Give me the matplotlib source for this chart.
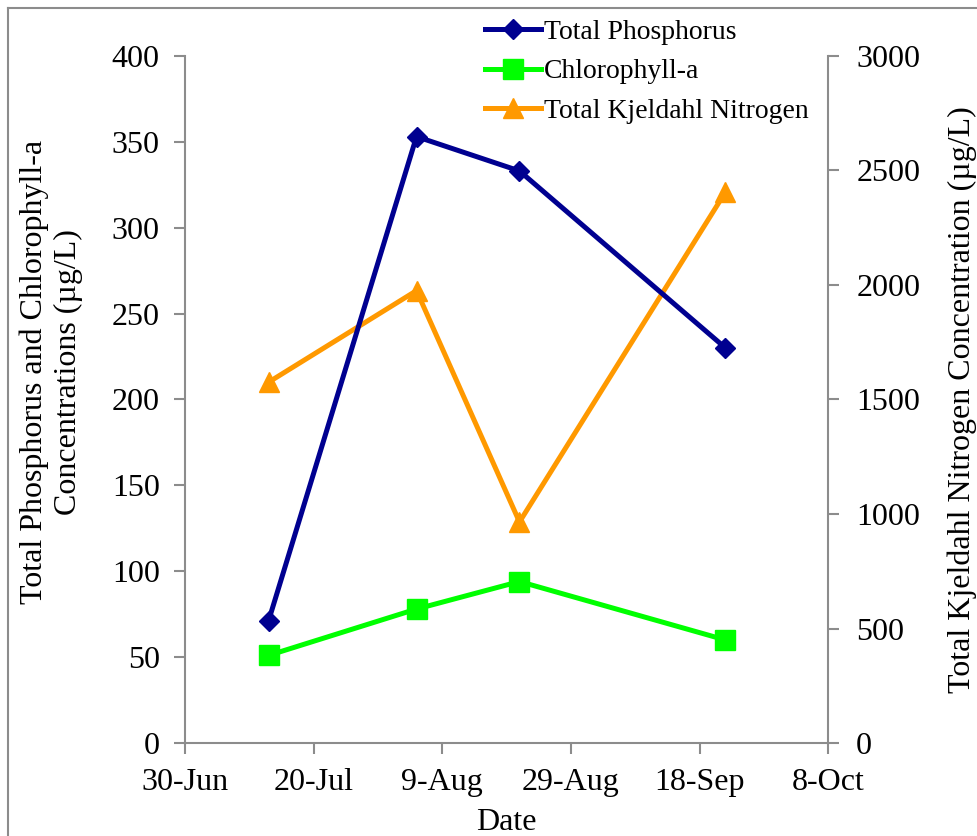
import datetime as dt
import matplotlib
matplotlib.use('Agg')
import matplotlib.pyplot as plt
import matplotlib.dates as mdates
from matplotlib.lines import Line2D

plt.rcParams['font.family'] = ['Liberation Serif', 'DejaVu Serif']

# Sampling dates and concentrations (ug/L)
dates = [dt.date(2010, 7, 13), dt.date(2010, 8, 5), dt.date(2010, 8, 21), dt.date(2010, 9, 22)]
total_phosphorus = [71, 353, 333, 230]
chlorophyll_a = [51, 78, 94, 60]
tkn = [1575, 1975, 965, 2405]

tick_dates = [dt.date(2010, 6, 30), dt.date(2010, 7, 20), dt.date(2010, 8, 9),
              dt.date(2010, 8, 29), dt.date(2010, 9, 18), dt.date(2010, 10, 8)]

grey = '#8c8c8c'
fs = 23

fig = plt.figure(figsize=(9.78, 8.36), dpi=100)
ax = fig.add_axes([0.189, 0.1112, 0.658, 0.822])
ax2 = ax.twinx()

l1, = ax.plot(dates, total_phosphorus, color='#000090', lw=3.6, marker='D', ms=10,
              label='Total Phosphorus')
l2, = ax.plot(dates, chlorophyll_a, color='#00ff00', lw=3.6, marker='s', ms=14,
              label='Chlorophyll-a')
l3, = ax2.plot(dates, tkn, color='#ff9900', lw=3.6, marker='^', ms=14,
               label='Total Kjeldahl Nitrogen')

ax.set_xlim(tick_dates[0], tick_dates[-1])
ax.set_xticks(tick_dates)
ax.xaxis.set_major_formatter(mdates.DateFormatter('%-d-%b'))
ax.set_ylim(0, 400)
ax.set_yticks(range(0, 401, 50))
ax2.set_ylim(0, 3000)
ax2.set_yticks(range(0, 3001, 500))

for a in (ax, ax2):
    a.spines['top'].set_visible(False)
    for s in ('left', 'right', 'bottom'):
        a.spines[s].set_color(grey)
        a.spines[s].set_linewidth(1.5)
    a.tick_params(colors=grey, labelcolor='black', labelsize=fs, width=1.5, length=8)
ax.spines['right'].set_visible(False)
ax2.spines['left'].set_visible(False)
ax2.spines['bottom'].set_visible(False)
ax.tick_params(axis='y', pad=10)
ax2.tick_params(axis='y', pad=12)
ax.tick_params(axis='x', pad=10)

ax.set_xlabel('Date', fontsize=fs, labelpad=8)
ax.set_ylabel('Total Phosphorus and Chlorophyll-a\nConcentrations (\u00b5g/L)', fontsize=fs,
              linespacing=1.25)
ax.yaxis.set_label_coords(-0.158, 0.54)
ax2.set_ylabel('Total Kjeldahl Nitrogen Concentration (\u00b5g/L)', fontsize=fs,
               labelpad=20)

ax.set_zorder(ax2.get_zorder() + 1)
ax.patch.set_visible(False)

fig.legend(handles=[l1, l2, l3], loc='upper left', bbox_to_anchor=(0.485, 0.99),
           frameon=False, fontsize=20, handlelength=2.0, handletextpad=0.12,
           labelspacing=0.5, borderaxespad=0)

# outer chart border
fig.add_artist(Line2D([0.008, 0.008], [0, 0.991], color=grey, lw=1.5,
                      transform=fig.transFigure))
fig.add_artist(Line2D([0.008, 1.0], [0.991, 0.991], color=grey, lw=1.5,
                      transform=fig.transFigure))

fig.savefig('out.png', dpi=100)
